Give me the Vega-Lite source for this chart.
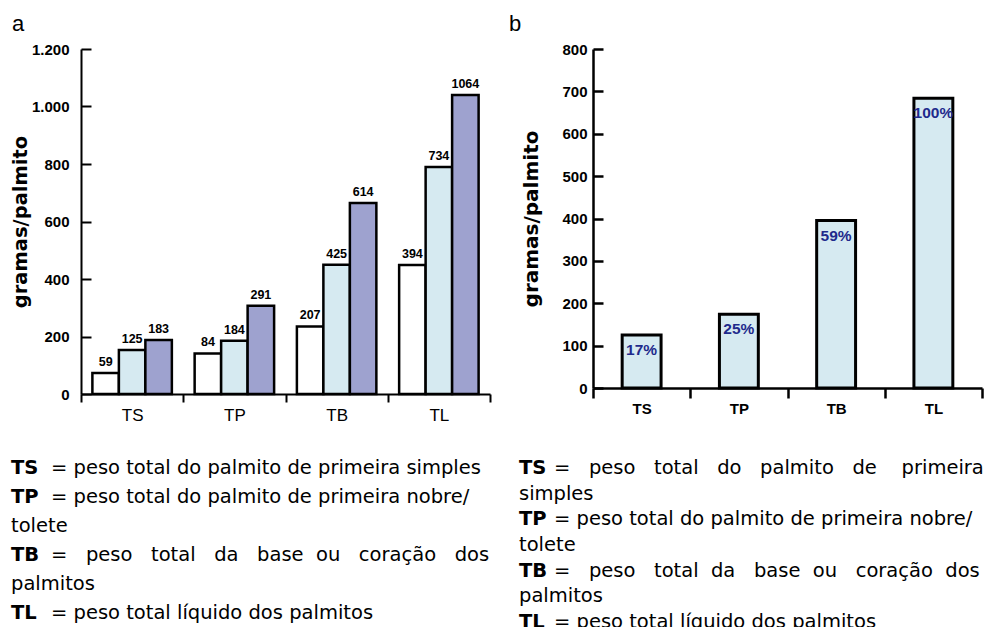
{
  "$schema": "https://vega.github.io/schema/vega-lite/v6.json",
  "padding": {"left": 10, "top": 13, "right": 0, "bottom": 0},
  "background": "white",
  "config": {"view": {"stroke": null}, "font": "Liberation Sans"},
  "datasets": {
    "barrasA": [
      {"categoria": "TS", "serie": "1", "valor": 73, "rotulo": "59"},
      {"categoria": "TS", "serie": "2", "valor": 153, "rotulo": "125"},
      {"categoria": "TS", "serie": "3", "valor": 188, "rotulo": "183"},
      {"categoria": "TP", "serie": "1", "valor": 141, "rotulo": "84"},
      {"categoria": "TP", "serie": "2", "valor": 185, "rotulo": "184"},
      {"categoria": "TP", "serie": "3", "valor": 307, "rotulo": "291"},
      {"categoria": "TB", "serie": "1", "valor": 235, "rotulo": "207"},
      {"categoria": "TB", "serie": "2", "valor": 450, "rotulo": "425"},
      {"categoria": "TB", "serie": "3", "valor": 664, "rotulo": "614"},
      {"categoria": "TL", "serie": "1", "valor": 449, "rotulo": "394"},
      {"categoria": "TL", "serie": "2", "valor": 790, "rotulo": "734"},
      {"categoria": "TL", "serie": "3", "valor": 1040, "rotulo": "1064"}
    ],
    "barrasB": [
      {"categoria": "TS", "valor": 125, "pct": "17%"},
      {"categoria": "TP", "valor": 174, "pct": "25%"},
      {"categoria": "TB", "valor": 395, "pct": "59%"},
      {"categoria": "TL", "valor": 684, "pct": "100%"}
    ],
    "legendaA": [
      {"linha": 1, "chave": "TS", "texto": "= peso total do palmito de primeira simples", "cont": ""},
      {"linha": 2, "chave": "TP", "texto": "= peso total do palmito de primeira nobre/", "cont": ""},
      {"linha": 3, "chave": "", "texto": "", "cont": "tolete"},
      {"linha": 4, "chave": "TB", "texto": "=\u00a0\u00a0\u00a0peso\u00a0\u00a0\u00a0total\u00a0\u00a0\u00a0da\u00a0\u00a0\u00a0base\u00a0\u00a0ou\u00a0\u00a0\u00a0coração\u00a0\u00a0\u00a0dos", "cont": ""},
      {"linha": 5, "chave": "", "texto": "", "cont": "palmitos"},
      {"linha": 6, "chave": "TL", "texto": "= peso total líquido dos palmitos", "cont": ""}
    ],
    "legendaB": [
      {"linha": 1, "chave": "TS", "texto": "=\u00a0\u00a0\u00a0peso\u00a0\u00a0\u00a0total\u00a0\u00a0\u00a0do\u00a0\u00a0\u00a0palmito\u00a0\u00a0\u00a0de\u00a0\u00a0\u00a0\u00a0primeira", "cont": ""},
      {"linha": 2, "chave": "", "texto": "", "cont": "simples"},
      {"linha": 3, "chave": "TP", "texto": "= peso total do palmito de primeira nobre/", "cont": ""},
      {"linha": 4, "chave": "", "texto": "", "cont": "tolete"},
      {"linha": 5, "chave": "TB", "texto": "=\u00a0\u00a0\u00a0peso\u00a0\u00a0\u00a0total\u00a0\u00a0da\u00a0\u00a0\u00a0base\u00a0\u00a0ou\u00a0\u00a0\u00a0coração\u00a0\u00a0dos", "cont": ""},
      {"linha": 6, "chave": "", "texto": "", "cont": "palmitos"},
      {"linha": 7, "chave": "TL", "texto": "= peso total líquido dos palmitos", "cont": ""}
    ]
  },
  "spacing": 18,
  "hconcat": [
    {
      "spacing": 35,
      "vconcat": [
        {
          "width": 409,
          "height": 345,
          "title": {"text": "a", "anchor": "start", "frame": "group", "dx": -69, "offset": 6, "fontSize": 22, "fontWeight": "normal", "font": "Liberation Sans", "color": "black"},
          "data": {"name": "barrasA"},
          "encoding": {
            "x": {
              "field": "categoria", "type": "nominal", "sort": ["TS", "TP", "TB", "TL"],
              "scale": {"paddingInner": 0, "paddingOuter": 0},
              "axis": {"title": null, "labelAngle": 0, "labelFont": "Liberation Sans", "labelFontSize": 17, "labelColor": "black", "tickBand": "extent", "tickSize": 8, "tickWidth": 2, "tickColor": "black", "domainColor": "black", "domainWidth": 2, "labelPadding": 5}
            },
            "xOffset": {"field": "serie", "type": "nominal", "scale": {"paddingInner": 0, "paddingOuter": 0.43}},
            "y": {
              "field": "valor", "type": "quantitative",
              "scale": {"domain": [0, 1200]},
              "axis": {"title": "gramas/palmito", "titleFont": "DejaVu Sans", "titleFontSize": 19.5, "titleFontWeight": "bold", "titleColor": "black", "titlePadding": 1, "values": [0, 200, 400, 600, 800, 1000, 1200], "labelExpr": "replace(format(datum.value, ','), ',', '.')", "labelFont": "Liberation Sans", "labelFontSize": 15, "labelFontWeight": "bold", "labelColor": "black", "tickSize": -10, "tickWidth": 2, "tickColor": "black", "domainColor": "black", "domainWidth": 2, "grid": false, "labelPadding": 22}
            }
          },
          "layer": [
            {
              "mark": {"type": "bar", "stroke": "black", "strokeWidth": 2.5},
              "encoding": {"fill": {"field": "serie", "type": "nominal", "scale": {"domain": ["1", "2", "3"], "range": ["#ffffff", "#d6eaf1", "#9ea2cf"]}, "legend": null}}
            },
            {
              "mark": {"type": "text", "baseline": "bottom", "dy": -4, "fontWeight": "bold", "fontSize": 12.5, "font": "Liberation Sans", "color": "black"},
              "encoding": {"text": {"field": "rotulo"}}
            }
          ]
        },
        {
          "width": 405,
          "height": 145,
          "data": {"name": "legendaA"},
          "encoding": {"y": {"field": "linha", "type": "ordinal", "scale": {"type": "point", "padding": 0}, "axis": null}},
          "layer": [
            {"mark": {"type": "text", "align": "left", "baseline": "middle", "x": -70, "font": "DejaVu Sans", "fontSize": 19.5, "fontWeight": "bold", "color": "black"}, "encoding": {"text": {"field": "chave"}}},
            {"mark": {"type": "text", "align": "left", "baseline": "middle", "x": -70, "dx": 40, "font": "DejaVu Sans", "fontSize": 19.5, "color": "black"}, "encoding": {"text": {"field": "texto"}}},
            {"mark": {"type": "text", "align": "left", "baseline": "middle", "x": -70, "font": "DejaVu Sans", "fontSize": 19.5, "color": "black"}, "encoding": {"text": {"field": "cont"}}}
          ]
        }
      ]
    },
    {
      "spacing": 42,
      "vconcat": [
        {
          "width": 389,
          "height": 339,
          "title": {"text": "b", "anchor": "start", "frame": "group", "dx": -84, "offset": 6, "fontSize": 22, "fontWeight": "normal", "font": "Liberation Sans", "color": "black"},
          "data": {"name": "barrasB"},
          "encoding": {
            "x": {
              "field": "categoria", "type": "nominal", "sort": ["TS", "TP", "TB", "TL"],
              "scale": {"paddingInner": 0, "paddingOuter": 0},
              "axis": {"title": null, "labelAngle": 0, "labelFont": "Liberation Sans", "labelFontSize": 15, "labelFontWeight": "bold", "labelColor": "black", "tickBand": "extent", "tickSize": 10, "tickWidth": 2.5, "tickColor": "black", "domainColor": "black", "domainWidth": 2.5, "labelPadding": 3}
            },
            "y": {
              "field": "valor", "type": "quantitative",
              "scale": {"domain": [0, 800]},
              "axis": {"title": "gramas/palmito", "titleFont": "DejaVu Sans", "titleFontSize": 20, "titleFontWeight": "bold", "titleColor": "black", "titlePadding": 20, "values": [0, 100, 200, 300, 400, 500, 600, 700, 800], "labelFont": "Liberation Sans", "labelFontSize": 15, "labelFontWeight": "bold", "labelColor": "black", "tickSize": -10, "tickWidth": 2.5, "tickColor": "black", "domainColor": "black", "domainWidth": 2.5, "grid": false, "labelPadding": 16}
            }
          },
          "layer": [
            {"mark": {"type": "bar", "width": {"band": 0.4}, "fill": "#d6eaf1", "stroke": "black", "strokeWidth": 3}},
            {"mark": {"type": "text", "baseline": "top", "dy": 8, "fontWeight": "bold", "fontSize": 15.5, "font": "Liberation Sans", "color": "#1f2a8c"}, "encoding": {"text": {"field": "pct"}}}
          ]
        },
        {
          "width": 389,
          "height": 154,
          "data": {"name": "legendaB"},
          "encoding": {"y": {"field": "linha", "type": "ordinal", "scale": {"type": "point", "padding": 0}, "axis": null}},
          "layer": [
            {"mark": {"type": "text", "align": "left", "baseline": "middle", "x": -74, "font": "DejaVu Sans", "fontSize": 19.5, "fontWeight": "bold", "color": "black"}, "encoding": {"text": {"field": "chave"}}},
            {"mark": {"type": "text", "align": "left", "baseline": "middle", "x": -74, "dx": 35, "font": "DejaVu Sans", "fontSize": 19.5, "color": "black"}, "encoding": {"text": {"field": "texto"}}},
            {"mark": {"type": "text", "align": "left", "baseline": "middle", "x": -74, "font": "DejaVu Sans", "fontSize": 19.5, "color": "black"}, "encoding": {"text": {"field": "cont"}}}
          ]
        }
      ]
    }
  ]
}
